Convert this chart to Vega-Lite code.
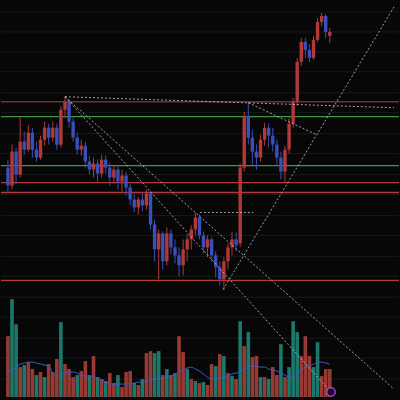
{
  "$schema": "https://vega.github.io/schema/vega-lite/v6.json",
  "width": 400,
  "height": 400,
  "autosize": {"type": "fit", "contains": "padding"},
  "padding": 0,
  "background": "#070707",
  "config": {"view": {"stroke": null}},
  "datasets": {
    "c": [
      {"i":0,"o":232,"c":214,"h":240,"l":208,"v":61,"vd":"d","ma":25},
      {"i":1,"o":214,"c":248,"h":255,"l":210,"v":98,"vd":"u","ma":27},
      {"i":2,"o":248,"c":225,"h":252,"l":215,"v":73,"vd":"u","ma":30},
      {"i":3,"o":225,"c":258,"h":282,"l":222,"v":30,"vd":"d","ma":33},
      {"i":4,"o":258,"c":250,"h":268,"l":245,"v":32,"vd":"u","ma":34},
      {"i":5,"o":250,"c":267,"h":275,"l":248,"v":35,"vd":"d","ma":35},
      {"i":6,"o":267,"c":250,"h":272,"l":242,"v":28,"vd":"d","ma":35},
      {"i":7,"o":250,"c":242,"h":258,"l":238,"v":22,"vd":"u","ma":34},
      {"i":8,"o":242,"c":260,"h":264,"l":240,"v":25,"vd":"d","ma":33},
      {"i":9,"o":260,"c":272,"h":278,"l":254,"v":20,"vd":"u","ma":32},
      {"i":10,"o":272,"c":262,"h":276,"l":255,"v":33,"vd":"d","ma":31},
      {"i":11,"o":262,"c":272,"h":278,"l":258,"v":25,"vd":"d","ma":24},
      {"i":12,"o":272,"c":255,"h":276,"l":250,"v":38,"vd":"d","ma":20},
      {"i":13,"o":255,"c":290,"h":294,"l":252,"v":75,"vd":"u","ma":23},
      {"i":14,"o":290,"c":298,"h":303,"l":282,"v":33,"vd":"d","ma":24},
      {"i":15,"o":298,"c":278,"h":300,"l":272,"v":28,"vd":"d","ma":25},
      {"i":16,"o":278,"c":262,"h":282,"l":258,"v":20,"vd":"d","ma":25},
      {"i":17,"o":262,"c":250,"h":267,"l":245,"v":22,"vd":"u","ma":24},
      {"i":18,"o":250,"c":254,"h":260,"l":244,"v":26,"vd":"d","ma":22},
      {"i":19,"o":254,"c":238,"h":258,"l":232,"v":36,"vd":"d","ma":21},
      {"i":20,"o":238,"c":230,"h":244,"l":225,"v":22,"vd":"u","ma":21},
      {"i":21,"o":230,"c":236,"h":242,"l":222,"v":41,"vd":"d","ma":20},
      {"i":22,"o":236,"c":226,"h":240,"l":218,"v":20,"vd":"u","ma":19},
      {"i":23,"o":226,"c":240,"h":245,"l":222,"v":18,"vd":"d","ma":17},
      {"i":24,"o":240,"c":232,"h":244,"l":226,"v":16,"vd":"u","ma":15},
      {"i":25,"o":232,"c":222,"h":237,"l":214,"v":24,"vd":"d","ma":13},
      {"i":26,"o":222,"c":230,"h":234,"l":216,"v":14,"vd":"d","ma":13},
      {"i":27,"o":230,"c":218,"h":233,"l":210,"v":22,"vd":"u","ma":13},
      {"i":28,"o":218,"c":224,"h":230,"l":208,"v":10,"vd":"d","ma":13},
      {"i":29,"o":224,"c":212,"h":228,"l":204,"v":25,"vd":"d","ma":13},
      {"i":30,"o":212,"c":200,"h":216,"l":194,"v":26,"vd":"d","ma":13},
      {"i":31,"o":200,"c":192,"h":205,"l":187,"v":14,"vd":"u","ma":14},
      {"i":32,"o":192,"c":200,"h":203,"l":185,"v":12,"vd":"d","ma":15},
      {"i":33,"o":200,"c":194,"h":206,"l":188,"v":18,"vd":"u","ma":15},
      {"i":34,"o":194,"c":206,"h":210,"l":190,"v":44,"vd":"d","ma":16},
      {"i":35,"o":206,"c":175,"h":208,"l":170,"v":46,"vd":"d","ma":17},
      {"i":36,"o":175,"c":150,"h":180,"l":138,"v":44,"vd":"u","ma":18},
      {"i":37,"o":150,"c":166,"h":170,"l":120,"v":46,"vd":"u","ma":18},
      {"i":38,"o":166,"c":138,"h":168,"l":130,"v":22,"vd":"d","ma":19},
      {"i":39,"o":138,"c":166,"h":172,"l":134,"v":28,"vd":"u","ma":20},
      {"i":40,"o":166,"c":152,"h":170,"l":145,"v":22,"vd":"d","ma":21},
      {"i":41,"o":152,"c":144,"h":160,"l":136,"v":24,"vd":"u","ma":23},
      {"i":42,"o":144,"c":134,"h":152,"l":123,"v":61,"vd":"d","ma":25},
      {"i":43,"o":134,"c":150,"h":160,"l":124,"v":45,"vd":"d","ma":27},
      {"i":44,"o":150,"c":160,"h":165,"l":138,"v":28,"vd":"u","ma":29},
      {"i":45,"o":160,"c":170,"h":174,"l":150,"v":18,"vd":"d","ma":30},
      {"i":46,"o":170,"c":182,"h":187,"l":164,"v":16,"vd":"u","ma":28},
      {"i":47,"o":182,"c":164,"h":185,"l":160,"v":14,"vd":"d","ma":26},
      {"i":48,"o":164,"c":152,"h":168,"l":146,"v":15,"vd":"u","ma":23},
      {"i":49,"o":152,"c":160,"h":164,"l":142,"v":12,"vd":"d","ma":20},
      {"i":50,"o":160,"c":144,"h":162,"l":138,"v":33,"vd":"d","ma":18},
      {"i":51,"o":144,"c":132,"h":148,"l":122,"v":31,"vd":"u","ma":18},
      {"i":52,"o":132,"c":120,"h":138,"l":114,"v":43,"vd":"d","ma":19},
      {"i":53,"o":120,"c":138,"h":142,"l":109,"v":41,"vd":"u","ma":20},
      {"i":54,"o":138,"c":152,"h":156,"l":130,"v":24,"vd":"d","ma":21},
      {"i":55,"o":152,"c":160,"h":168,"l":144,"v":21,"vd":"u","ma":23},
      {"i":56,"o":160,"c":154,"h":167,"l":148,"v":18,"vd":"d","ma":24},
      {"i":57,"o":156,"c":232,"h":236,"l":152,"v":76,"vd":"u","ma":25},
      {"i":58,"o":232,"c":284,"h":288,"l":228,"v":51,"vd":"d","ma":28},
      {"i":59,"o":284,"c":262,"h":297,"l":255,"v":65,"vd":"u","ma":30},
      {"i":60,"o":262,"c":248,"h":270,"l":235,"v":40,"vd":"d","ma":31},
      {"i":61,"o":248,"c":242,"h":255,"l":230,"v":41,"vd":"d","ma":31},
      {"i":62,"o":242,"c":260,"h":265,"l":238,"v":20,"vd":"u","ma":30},
      {"i":63,"o":260,"c":272,"h":277,"l":254,"v":20,"vd":"d","ma":30},
      {"i":64,"o":272,"c":264,"h":276,"l":252,"v":18,"vd":"u","ma":28},
      {"i":65,"o":264,"c":255,"h":272,"l":248,"v":30,"vd":"d","ma":27},
      {"i":66,"o":255,"c":242,"h":260,"l":235,"v":22,"vd":"d","ma":26},
      {"i":67,"o":242,"c":228,"h":248,"l":220,"v":53,"vd":"u","ma":24},
      {"i":68,"o":228,"c":250,"h":254,"l":217,"v":20,"vd":"d","ma":22},
      {"i":69,"o":250,"c":276,"h":282,"l":246,"v":30,"vd":"u","ma":20},
      {"i":70,"o":276,"c":298,"h":302,"l":272,"v":76,"vd":"u","ma":20},
      {"i":71,"o":298,"c":338,"h":342,"l":294,"v":65,"vd":"u","ma":23},
      {"i":72,"o":338,"c":358,"h":362,"l":334,"v":41,"vd":"d","ma":27},
      {"i":73,"o":358,"c":350,"h":362,"l":342,"v":61,"vd":"d","ma":30},
      {"i":74,"o":350,"c":342,"h":356,"l":338,"v":41,"vd":"d","ma":31},
      {"i":75,"o":342,"c":360,"h":364,"l":340,"v":30,"vd":"u","ma":33},
      {"i":76,"o":360,"c":378,"h":382,"l":358,"v":55,"vd":"u","ma":35},
      {"i":77,"o":378,"c":384,"h":387,"l":374,"v":21,"vd":"d","ma":35},
      {"i":78,"o":384,"c":368,"h":386,"l":362,"v":28,"vd":"d","ma":34},
      {"i":79,"o":364,"c":368,"h":372,"l":357,"v":28,"vd":"d","ma":33}
    ],
    "grid": [
      {"p":388},{"p":368},{"p":348},{"p":328},{"p":307},{"p":287},{"p":266},{"p":246},{"p":225},{"p":205},
      {"p":184},{"p":164},{"p":143},{"p":123},{"p":102},{"p":82},{"p":61},{"p":41},{"p":20}
    ],
    "lv": [
      {"p":298,"k":"rd"},
      {"p":283,"k":"g"},
      {"p":234,"k":"g"},
      {"p":217,"k":"r"},
      {"p":207,"k":"r"},
      {"p":119,"k":"r"}
    ],
    "tl": [
      {"x1":14,"x2":94.76,"y1":303,"y2":292},
      {"x1":14,"x2":79.3,"y1":303,"y2":7},
      {"x1":14,"x2":94.76,"y1":303,"y2":10},
      {"x1":52.86,"x2":94.76,"y1":110,"y2":393},
      {"x1":59,"x2":75.7,"y1":297,"y2":265},
      {"x1":47.1,"x2":60.2,"y1":187,"y2":187}
    ],
    "mk": [
      {"i":79.3,"p":7}
    ]
  },
  "layer": [
    {
      "data": {"name": "grid"},
      "mark": {"type": "rule", "color": "#191919", "strokeWidth": 1},
      "encoding": {
        "y": {"field": "p", "type": "quantitative", "scale": {"domain": [0, 400], "nice": false, "zero": false}, "axis": null}
      }
    },
    {
      "data": {"name": "c"},
      "mark": {"type": "bar", "width": 3.6, "opacity": 0.9},
      "encoding": {
        "x": {"field": "i", "type": "quantitative", "scale": {"domain": [-0.476, 94.76], "nice": false, "zero": false}, "axis": null},
        "y": {"field": "v", "type": "quantitative", "scale": {"domain": [-2, 398], "nice": false, "zero": false}, "axis": null},
        "y2": {"datum": 0},
        "color": {"field": "vd", "type": "nominal", "scale": {"domain": ["u", "d"], "range": ["#1f8578", "#a9403a"]}, "legend": null}
      }
    },
    {
      "data": {"name": "c"},
      "mark": {"type": "line", "color": "#3b5bd0", "strokeWidth": 1, "interpolate": "monotone"},
      "encoding": {
        "x": {"field": "i", "type": "quantitative", "scale": {"domain": [-0.476, 94.76], "nice": false, "zero": false}, "axis": null},
        "y": {"field": "ma", "type": "quantitative", "scale": {"domain": [-2, 398], "nice": false, "zero": false}, "axis": null}
      }
    },
    {
      "data": {"name": "lv"},
      "mark": {"type": "rule", "strokeWidth": 1.3},
      "encoding": {
        "y": {"field": "p", "type": "quantitative", "scale": {"domain": [0, 400], "nice": false, "zero": false}, "axis": null},
        "color": {"field": "k", "type": "nominal", "scale": {"domain": ["r", "rd", "g"], "range": ["#b3393a", "#7a2c2c", "#3f9a45"]}, "legend": null}
      }
    },
    {
      "data": {"name": "c"},
      "mark": {"type": "rule", "strokeWidth": 1},
      "encoding": {
        "x": {"field": "i", "type": "quantitative", "scale": {"domain": [-0.476, 94.76], "nice": false, "zero": false}, "axis": null},
        "y": {"field": "l", "type": "quantitative", "scale": {"domain": [0, 400], "nice": false, "zero": false}, "axis": null},
        "y2": {"field": "h"},
        "color": {"condition": {"test": "datum.c > datum.o", "value": "#b3383a"}, "value": "#3a4fb8"}
      }
    },
    {
      "data": {"name": "c"},
      "mark": {"type": "bar", "width": 3.4},
      "encoding": {
        "x": {"field": "i", "type": "quantitative", "scale": {"domain": [-0.476, 94.76], "nice": false, "zero": false}, "axis": null},
        "y": {"field": "o", "type": "quantitative", "scale": {"domain": [0, 400], "nice": false, "zero": false}, "axis": null},
        "y2": {"field": "c"},
        "color": {"condition": {"test": "datum.c > datum.o", "value": "#b3383a"}, "value": "#3a4fb8"}
      }
    },
    {
      "data": {"name": "tl"},
      "mark": {"type": "rule", "color": "#c8c8c8", "strokeWidth": 1, "strokeDash": [2, 2], "opacity": 0.8},
      "encoding": {
        "x": {"field": "x1", "type": "quantitative", "scale": {"domain": [-0.476, 94.76], "nice": false, "zero": false}, "axis": null},
        "x2": {"field": "x2"},
        "y": {"field": "y1", "type": "quantitative", "scale": {"domain": [0, 400], "nice": false, "zero": false}, "axis": null},
        "y2": {"field": "y2"}
      }
    },
    {
      "data": {"name": "mk"},
      "mark": {"type": "point", "shape": "circle", "size": 70, "stroke": "#a040c8", "strokeWidth": 1.5, "fill": "#1a0a22", "filled": true, "opacity": 1},
      "encoding": {
        "x": {"field": "i", "type": "quantitative", "scale": {"domain": [-0.476, 94.76], "nice": false, "zero": false}, "axis": null},
        "y": {"field": "p", "type": "quantitative", "scale": {"domain": [0, 400], "nice": false, "zero": false}, "axis": null}
      }
    }
  ],
  "resolve": {"scale": {"y": "independent", "color": "independent"}}
}
